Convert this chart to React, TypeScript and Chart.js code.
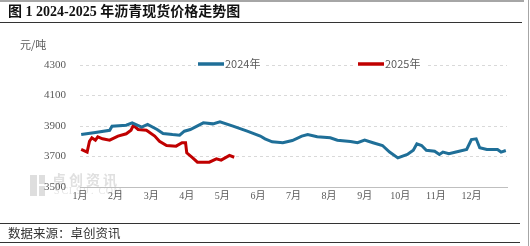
import React, { useEffect, useRef } from "react";
import { Chart, registerables } from "chart.js";
Chart.register(...registerables);

const titleText = "图 1 2024-2025 年沥青现货价格走势图";
const unitText = "元/吨";
const sourceText = "数据来源：卓创资讯";
const monthLabels = ["1月", "2月", "3月", "4月", "5月", "6月", "7月", "8月", "9月", "10月", "11月", "12月"];
const yMin = 3500;
const yMax = 4300;
const yStep = 200;
const seriesNames = ["2024年", "2025年"];
const seriesColors = ["#1f6f98", "#c00000"];

const dates2024 = [
  "01-02", "01-14", "01-26", "01-28", "02-10", "02-15", "02-23", "02-28", "03-06", "03-11",
  "03-19", "03-25", "03-29", "04-04", "04-15", "04-23", "04-29", "05-10", "05-22", "06-03",
  "06-07", "06-13", "06-22", "06-30", "07-08", "07-13", "07-21", "08-02", "08-08", "08-19",
  "08-25", "09-01", "09-08", "09-16", "09-22", "09-29", "10-07", "10-12", "10-15", "10-19",
  "10-23", "10-30", "11-04", "11-07", "11-12", "11-18", "11-27", "12-01", "12-05", "12-08",
  "12-14", "12-23", "12-26", "12-30",
];
const values2024 = [
  3844, 3858, 3872, 3899, 3905, 3921, 3892, 3910, 3877, 3851,
  3844, 3840, 3866, 3877, 3921, 3914, 3927, 3899, 3866, 3834,
  3816, 3796, 3790, 3805, 3834, 3844, 3829, 3823, 3807, 3798,
  3790, 3807, 3790, 3772, 3729, 3691, 3713, 3741, 3783, 3772,
  3741, 3735, 3713, 3729, 3718, 3729, 3746, 3811, 3816, 3757,
  3746, 3746, 3729, 3739,
];

const dates2025 = [
  "01-02", "01-07", "01-09", "01-11", "01-14", "01-16", "01-20", "01-26", "02-03", "02-10",
  "02-14", "02-16", "02-20", "02-27", "03-04", "03-08", "03-14", "03-22", "03-27", "03-30",
  "04-01", "04-06", "04-10", "04-20", "04-26", "04-30", "05-07", "05-11",
];
const values2025 = [
  3746, 3729, 3800, 3823, 3807, 3829, 3816, 3807, 3834, 3849,
  3872, 3904, 3877, 3872, 3834, 3800, 3772, 3768, 3790, 3790,
  3724, 3691, 3663, 3663, 3685, 3676, 3707, 3695,
];

function datePos(d: string): number {
  const [m, day] = d.split("-").map(Number);
  return m - 1 + (day - 1) / 30;
}

const CJK = '"Noto Sans CJK SC", sans-serif';
const SERIF = '"Liberation Serif", "Noto Sans CJK SC", serif';

const decorPlugin = {
  id: "decor",
  beforeDraw(chart: any) {
    const ctx = chart.ctx as CanvasRenderingContext2D;
    ctx.save();
    ctx.fillStyle = "#dedede";
    ctx.fillRect(30, 175, 7, 21);
    ctx.fillRect(39, 175, 6, 9);
    ctx.fillRect(39, 186, 6, 10);
    ctx.fillStyle = "#e0e0e0";
    ctx.font = "bold 14px " + CJK;
    ctx.textBaseline = "middle";
    ctx.textAlign = "left";
    const wm = "卓创资讯";
    for (let i = 0; i < wm.length; i++) ctx.fillText(wm[i], 52 + i * 17, 180);
    ctx.fillStyle = "#e4e4e4";
    ctx.font = "10px " + SERIF;
    const sc = "SCI99.COM";
    for (let i = 0; i < sc.length; i++) ctx.fillText(sc[i], 54 + i * 7.4, 191);
    ctx.restore();
  },
  afterDatasetsDraw(chart: any) {
    const ctx = chart.ctx as CanvasRenderingContext2D;
    ctx.save();
    const items = [
      { x: 198, name: seriesNames[0], color: seriesColors[0] },
      { x: 358, name: seriesNames[1], color: seriesColors[1] },
    ];
    const y = 64;
    ctx.font = "11px " + CJK;
    ctx.textBaseline = "middle";
    ctx.textAlign = "left";
    for (const it of items) {
      const tw = ctx.measureText(it.name).width;
      ctx.fillStyle = "#ffffff";
      ctx.fillRect(it.x - 2, y - 4, 28 + tw + 6, 8);
      ctx.strokeStyle = it.color;
      ctx.lineWidth = 3.5;
      ctx.beginPath();
      ctx.moveTo(it.x, y);
      ctx.lineTo(it.x + 26, y);
      ctx.stroke();
      ctx.fillStyle = "#595959";
      ctx.fillText(it.name, it.x + 27, y);
    }
    ctx.restore();
  },
};

export default function App() {
  const canvasRef = useRef<HTMLCanvasElement>(null);

  useEffect(() => {
    if (!canvasRef.current) return;
    const chart = new Chart(canvasRef.current, {
      type: "line",
      data: {
        datasets: [
          {
            label: seriesNames[0],
            data: dates2024.map((d, i) => ({ x: datePos(d), y: values2024[i] })),
            borderColor: seriesColors[0],
            backgroundColor: seriesColors[0],
            borderWidth: 3,
            pointRadius: 0,
            tension: 0,
          },
          {
            label: seriesNames[1],
            data: dates2025.map((d, i) => ({ x: datePos(d), y: values2025[i] })),
            borderColor: seriesColors[1],
            backgroundColor: seriesColors[1],
            borderWidth: 3,
            pointRadius: 0,
            tension: 0,
          },
        ],
      },
      options: {
        animation: false,
        responsive: false,
        devicePixelRatio: 1,
        layout: { padding: { top: 65, left: 0, right: 23, bottom: 0 } },
        plugins: {
          legend: { display: false },
          tooltip: { enabled: false },
        },
        scales: {
          x: {
            type: "linear",
            min: 0,
            max: 12,
            afterFit: (s: any) => {
              s.height = 59;
            },
            ticks: {
              stepSize: 1,
              autoSkip: false,
              maxRotation: 0,
              padding: 3,
              color: "#595959",
              font: { size: 10, family: SERIF },
              callback: (v: any) => (v >= 0 && v < 12 ? monthLabels[v] : ""),
            },
            grid: { display: false, drawTicks: false },
            border: { display: true, color: "#bfbfbf", width: 1 },
          },
          y: {
            min: yMin,
            max: yMax,
            afterFit: (s: any) => {
              s.width = 80;
            },
            ticks: {
              stepSize: yStep,
              padding: 14,
              color: "#595959",
              font: { size: 11, family: SERIF },
              callback: (v: any) => String(v),
            },
            grid: {
              drawTicks: false,
              color: (c: any) => (c.tick && c.tick.value === yMin ? "rgba(0,0,0,0)" : "#d9d9d9"),
            },
            border: { display: false, dash: [3, 3] },
          },
        },
      },
      plugins: [decorPlugin],
    } as any);
    return () => chart.destroy();
  }, []);

  return (
    <div style={{ position: "fixed", left: 0, top: 0, width: 530, height: 246, background: "#fff", overflow: "hidden" }}>
      <canvas ref={canvasRef} width={530} height={246} style={{ position: "absolute", left: 0, top: 0, width: 530, height: 246 }} />
      <div style={{ position: "absolute", left: 0, top: 0, width: 524, height: 2, background: "#a6a6a6" }} />
      <div style={{ position: "absolute", left: 528, top: 0, width: 1, height: 246, background: "#a6a6a6" }} />
      <div
        style={{
          position: "absolute",
          left: 8,
          top: 3,
          height: 18,
          lineHeight: "18px",
          fontSize: 14,
          fontWeight: "bold",
          fontFamily: SERIF,
          color: "#111",
          whiteSpace: "nowrap",
        }}
      >
        {titleText}
      </div>
      <div style={{ position: "absolute", left: 0, top: 22, width: 522, height: 1, background: "#333" }} />
      <div
        style={{
          position: "absolute",
          left: 20,
          top: 37,
          lineHeight: "14px",
          fontSize: 11,
          fontFamily: CJK,
          color: "#595959",
          whiteSpace: "nowrap",
        }}
      >
        {unitText}
      </div>
      <div style={{ position: "absolute", left: 0, top: 223, width: 520, height: 1, background: "#333" }} />
      <div
        style={{
          position: "absolute",
          left: 8,
          top: 225,
          lineHeight: "16px",
          fontSize: 12.5,
          fontFamily: CJK,
          color: "#333",
          whiteSpace: "nowrap",
        }}
      >
        {sourceText}
      </div>
      <div style={{ position: "absolute", left: 0, top: 242, width: 520, height: 1, background: "#333" }} />
    </div>
  );
}
